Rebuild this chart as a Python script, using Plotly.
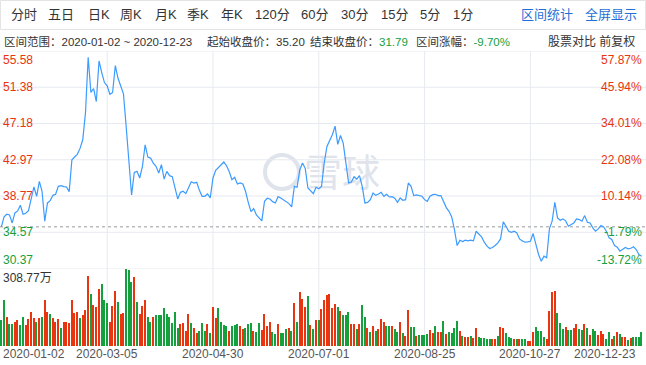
import pandas as pd
import plotly.graph_objects as go

W, H = 646, 365

# ---------------- data ----------------
holidays = ['2020-01-01', '2020-01-24', '2020-01-27', '2020-01-28', '2020-01-29',
            '2020-01-30', '2020-01-31', '2020-04-06', '2020-05-01', '2020-05-04',
            '2020-05-05', '2020-06-25', '2020-06-26', '2020-10-01', '2020-10-02',
            '2020-10-05', '2020-10-06', '2020-10-07', '2020-10-08']
dates = [d.strftime('%Y-%m-%d') for d in pd.bdate_range('2020-01-02', '2020-12-23')
         if d.strftime('%Y-%m-%d') not in holidays]

closes = [
    35.20, 36.35, 36.66, 36.58, 35.65, 36.81, 37.04, 37.70, 36.66, 36.77,
    37.08, 38.55, 39.82, 38.74, 40.47, 39.32, 35.85, 37.97, 38.24, 38.85,
    38.97, 39.89, 39.97, 39.86, 39.82, 39.28, 42.98, 43.29, 43.60, 44.29,
    45.29, 48.38, 54.85, 50.77, 51.23, 49.72, 54.43, 53.08, 51.92, 51.54,
    50.57, 50.77, 53.89, 52.42, 51.46, 50.61, 46.83, 42.59, 38.89, 41.51,
    41.63, 40.86, 42.21, 44.71, 43.29, 43.17, 42.59, 42.21, 41.44, 42.40,
    40.74, 41.63, 41.13, 41.01, 39.59, 38.43, 39.20, 39.32, 39.05, 39.74,
    40.43, 40.28, 40.36, 39.43, 38.74, 38.74, 39.01, 38.55, 40.86, 41.74,
    42.05, 42.32, 42.71, 42.28, 41.59, 40.67, 40.94, 40.16, 40.28, 40.16,
    39.32, 38.04, 36.96, 37.31, 36.58, 36.23, 35.89, 38.16, 38.51, 38.43,
    38.12, 37.97, 38.70, 38.55, 38.35, 38.12, 37.89, 37.50, 39.89, 39.78,
    41.82, 42.59, 41.98, 39.70, 39.43, 39.05, 39.78, 39.62, 39.89, 42.60,
    44.52, 45.14, 45.87, 46.87, 44.75, 45.79, 44.91, 42.59, 40.28, 40.40,
    41.01, 40.74, 41.13, 39.89, 37.97, 38.04, 38.35, 39.12, 38.85, 39.01,
    39.20, 38.74, 38.97, 38.66, 38.70, 38.51, 38.04, 38.55, 38.28, 38.35,
    40.28, 39.89, 38.82, 38.89, 38.85, 38.74, 38.35, 38.16, 38.74, 38.93,
    38.97, 38.82, 38.82, 38.16, 37.43, 37.00, 36.35, 34.88, 33.03, 33.65,
    33.50, 33.65, 33.57, 33.65, 33.57, 34.69, 34.30, 34.03, 33.42, 32.96,
    32.69, 32.80, 33.03, 33.34, 33.80, 35.77, 35.27, 34.69, 34.57, 34.69,
    34.50, 33.80, 33.57, 33.42, 33.46, 33.53, 34.42, 33.15, 31.99, 31.22,
    31.80, 31.61, 34.96, 35.85, 38.04, 36.23, 35.96, 36.12, 35.89, 35.27,
    35.46, 35.65, 36.12, 36.04, 35.85, 36.50, 35.73, 35.65, 35.08, 34.69,
    34.96, 35.35, 35.19, 34.69, 33.92, 33.73, 33.03, 32.84, 32.38, 32.57,
    32.80, 32.65, 32.72, 32.88, 32.57, 31.99, 31.79]

# volume in 万股
volumes = [
    104.7, 185.3, 118.1, 88.6, 88.6, 98.0, 104.7, 83.2, 115.5, 84.6,
    107.4, 135.6, 111.4, 98.0, 111.4, 115.5, 185.3, 138.3, 127.5, 111.4,
    98.0, 107.4, 73.8, 95.3, 95.3, 91.3, 185.3, 131.6, 135.6, 111.4,
    124.9, 145.0, 281.9, 209.4, 165.1, 155.7, 228.2, 249.7, 185.3, 171.8,
    98.0, 161.1, 221.5, 175.9, 128.9, 132.9, 308.77, 306.0, 256.4, 276.6,
    175.9, 127.5, 161.1, 185.3, 118.1, 96.7, 115.5, 123.5, 124.9, 124.9,
    151.7, 128.9, 118.1, 91.3, 135.6, 73.8, 88.6, 91.3, 61.8, 127.5,
    91.3, 71.2, 51.0, 60.4, 91.3, 61.8, 87.3, 53.7, 155.7, 114.1,
    151.7, 95.3, 84.6, 81.9, 61.8, 81.9, 84.6, 87.3, 80.6, 67.1,
    71.2, 88.6, 91.3, 61.8, 55.0, 91.3, 64.4, 127.5, 80.6, 98.0,
    55.0, 47.0, 87.3, 51.0, 51.0, 67.1, 71.2, 61.8, 171.8, 98.0,
    216.1, 188.0, 155.7, 201.4, 84.6, 68.5, 104.7, 103.4, 149.0, 185.3,
    205.4, 209.4, 151.7, 167.8, 155.7, 142.3, 123.5, 123.5, 135.6, 87.3,
    87.3, 67.1, 87.3, 165.1, 115.5, 71.2, 55.0, 81.9, 60.4, 67.1,
    107.4, 95.3, 81.9, 79.2, 81.9, 68.5, 55.0, 95.3, 51.0, 41.6,
    145.0, 75.2, 75.2, 41.6, 44.3, 44.3, 44.3, 48.3, 64.4, 53.7,
    81.9, 55.0, 55.0, 100.7, 47.0, 57.7, 53.7, 71.2, 102.0, 61.8,
    41.6, 34.9, 34.9, 40.3, 33.6, 71.2, 34.9, 30.9, 30.9, 28.2,
    28.2, 28.2, 26.9, 41.6, 75.2, 73.8, 51.0, 37.6, 33.6, 29.5,
    28.2, 29.5, 28.2, 26.9, 21.5, 20.1, 55.0, 77.9, 60.4, 61.8,
    37.6, 28.2, 142.3, 214.8, 218.8, 131.6, 91.3, 67.1, 77.9, 64.4,
    64.4, 71.2, 87.3, 68.5, 64.4, 87.3, 73.8, 44.3, 67.1, 61.8,
    44.3, 61.8, 48.3, 28.2, 57.7, 28.2, 40.3, 57.7, 48.3, 37.6,
    34.9, 24.2, 30.9, 34.9, 34.9, 34.9, 57.7]

# 1 = red (up) bar, 0 = green (down) bar
up_flags = [
    0, 0, 1, 0, 0, 1, 1, 0, 0, 1,
    1, 1, 1, 0, 1, 0, 1, 1, 0, 1,
    1, 1, 0, 1, 1, 1, 1, 1, 1, 0,
    1, 1, 1, 0, 1, 1, 1, 0, 0, 0,
    1, 1, 1, 0, 1, 1, 0, 0, 0, 1,
    0, 1, 1, 1, 0, 0, 1, 0, 0, 0,
    0, 0, 0, 0, 0, 0, 1, 1, 1, 1,
    0, 1, 1, 0, 0, 0, 1, 0, 1, 1,
    0, 0, 0, 0, 1, 0, 0, 0, 1, 1,
    0, 0, 0, 1, 0, 0, 1, 1, 1, 1,
    0, 0, 1, 0, 0, 0, 1, 0, 1, 0,
    1, 1, 1, 0, 1, 0, 1, 0, 1, 1,
    1, 1, 1, 1, 0, 1, 0, 0, 0, 1,
    1, 0, 1, 0, 0, 1, 0, 1, 0, 1,
    1, 1, 0, 0, 1, 0, 0, 1, 0, 1,
    1, 0, 0, 1, 0, 0, 0, 0, 1, 1,
    0, 1, 1, 0, 1, 0, 0, 0, 0, 1,
    0, 1, 1, 0, 1, 1, 0, 0, 0, 0,
    0, 1, 1, 0, 1, 1, 0, 0, 0, 1,
    0, 1, 0, 0, 1, 1, 1, 0, 0, 0,
    0, 1, 1, 1, 1, 0, 0, 0, 1, 0,
    0, 1, 1, 0, 0, 1, 0, 1, 0, 0,
    1, 1, 1, 0, 0, 1, 0, 1, 0, 1,
    1, 0, 1, 0, 0, 0, 0]

assert len(dates) == len(closes) == len(volumes) == len(up_flags), (
    len(dates), len(closes), len(volumes), len(up_flags))

price_ticks = [55.58, 51.38, 47.18, 42.97, 38.77, 34.57, 30.37]
pct_ticks = ['57.87%', '45.94%', '34.01%', '22.08%', '10.14%', '-1.79%', '-13.72%']
x_tick_dates = ['2020-01-02', '2020-03-05', '2020-04-30', '2020-07-01',
                '2020-08-25', '2020-10-27', '2020-12-23']
start_close = 35.20
end_close = 31.79
change_pct = '-9.70%'
vol_max = 308.77
vol_label = '308.77万'
tabs = ['分时', '五日', '日K', '周K', '月K', '季K', '年K', '120分', '60分',
        '30分', '15分', '5分', '1分']
right_tabs = ['区间统计', '全屏显示']

# ---------------- style ----------------
FONT = 'Liberation Sans, Arial, Noto Sans CJK SC, sans-serif'
RED = '#e8340f'
GREEN = '#14a03c'
BLUE_LINE = '#3c9bff'
GRID = '#e6e9ef'
TEXT = '#333333'
LINK = '#1f6fd6'
WATER = '#dfe4ec'


def px(x):
    return x / W


def py(y):
    return 1 - y / H


X_RIGHT = 643 / W
PRICE_TOP, PRICE_BOT = 51.0, 268.5
VOL_TOP, VOL_BOT = 269.0, 346.0

fig = go.Figure()
fig.add_trace(go.Bar(
    x=dates, y=volumes, yaxis='y2', width=0.5,
    marker=dict(color=[RED if u else GREEN for u in up_flags], line=dict(width=0)),
    hoverinfo='skip'))
fig.add_trace(go.Scatter(
    x=dates, y=closes, mode='lines', line=dict(color=BLUE_LINE, width=1.2),
    hoverinfo='skip'))

shapes = []
# watermark (drawn below the data)
shapes.append(dict(type='circle', xref='paper', yref='paper',
                   x0=px(265), x1=px(299), y0=py(189), y1=py(155),
                   line=dict(color=WATER, width=4), layer='below'))
shapes.append(dict(type='rect', xref='paper', yref='paper',
                   x0=px(300), x1=px(384), y0=py(194), y1=py(156),
                   line=dict(width=0), fillcolor='rgba(0,0,0,0)', layer='below',
                   label=dict(text='雪球', textposition='middle center',
                              font=dict(size=38, color=WATER, family='Noto Sans CJK SC'))))
# horizontal price grid
for v in price_ticks:
    shapes.append(dict(type='line', xref='paper', yref='y', x0=0, x1=1, y0=v, y1=v,
                       line=dict(color=GRID, width=1), layer='below'))
# vertical grid at date ticks (interior ones)
for d in x_tick_dates[1:-1]:
    shapes.append(dict(type='line', xref='x', yref='paper', x0=d, x1=d,
                       y0=py(VOL_BOT), y1=py(PRICE_TOP),
                       line=dict(color=GRID, width=1), layer='below'))
# start price dashed line
shapes.append(dict(type='line', xref='paper', yref='y', x0=0, x1=1,
                   y0=start_close, y1=start_close,
                   line=dict(color='#9a9a9a', width=1, dash='3px,3px'), layer='below'))
# tab bar border
shapes.append(dict(type='rect', xref='paper', yref='paper',
                   x0=px(0.5), x1=px(645.5), y0=py(29.5), y1=py(0.5),
                   line=dict(color='#e4e4e4', width=1), layer='below'))

ann = []
tab_x = [9, 46, 86, 118, 153, 185, 219, 253, 299, 339, 379, 418, 451]
for t, x in zip(tabs, tab_x):
    ann.append(dict(text=t, x=px(x), y=py(15), xref='paper', yref='paper',
                    xanchor='left', yanchor='middle', showarrow=False,
                    font=dict(size=13, color=TEXT, family=FONT)))
for t, x in zip(right_tabs, [519, 583]):
    ann.append(dict(text=t, x=px(x), y=py(15), xref='paper', yref='paper',
                    xanchor='left', yanchor='middle', showarrow=False,
                    font=dict(size=13, color=LINK, family=FONT)))

info_y = py(41.5)
green_span = '<span style="color:%s">%s</span>'
info = [
    ('区间范围：%s ~ %s' % (dates[0], dates[-1]), 2),
    ('起始收盘价：%.2f' % start_close, 205),
    ('结束收盘价：' + green_span % (GREEN, '%.2f' % end_close), 308),
    ('区间涨幅：' + green_span % (GREEN, change_pct), 414),
]
for t, x in info:
    ann.append(dict(text=t, x=px(x), y=info_y, xref='paper', yref='paper',
                    xanchor='left', yanchor='middle', showarrow=False,
                    font=dict(size=11.5, color=TEXT, family=FONT)))
ann.append(dict(text='股票对比 前复权', x=px(637), y=info_y, xref='paper', yref='paper',
                xanchor='right', yanchor='middle', showarrow=False,
                font=dict(size=12, color=TEXT, family=FONT)))

# y tick labels
n = len(price_ticks)
for k, (v, p) in enumerate(zip(price_ticks, pct_ticks)):
    col = RED if v > start_close else GREEN
    ya = 'top' if k == 0 else ('bottom' if k == n - 1 else 'middle')
    ann.append(dict(text='%.2f' % v, x=px(1), y=v, xref='paper', yref='y',
                    xanchor='left', yanchor=ya, showarrow=False,
                    font=dict(size=12, color=col, family=FONT)))
    ann.append(dict(text=p, x=px(644), y=v, xref='paper', yref='y',
                    xanchor='right', yanchor=ya, showarrow=False,
                    font=dict(size=12, color=col, family=FONT)))

ann.append(dict(text=vol_label, x=px(1), y=py(VOL_TOP), xref='paper', yref='paper',
                xanchor='left', yanchor='top', showarrow=False,
                font=dict(size=12, color=TEXT, family=FONT)))

# x tick labels
for k, d in enumerate(x_tick_dates):
    if k == 0:
        ann.append(dict(text=d, x=px(1), xref='paper', xanchor='left'))
    elif k == len(x_tick_dates) - 1:
        ann.append(dict(text=d, x=px(638), xref='paper', xanchor='right'))
    else:
        ann.append(dict(text=d, x=d, xref='x', xanchor='center'))
    ann[-1].update(y=py(354), yref='paper', yanchor='middle', showarrow=False,
                   font=dict(size=12, color='#555555', family=FONT))

fig.update_layout(
    width=W, height=H, margin=dict(l=0, r=0, t=0, b=0),
    paper_bgcolor='white', plot_bgcolor='rgba(0,0,0,0)',
    showlegend=False, bargap=0,
    xaxis=dict(type='category', domain=[0, X_RIGHT], range=[-0.5, len(dates) - 0.5],
               showgrid=False, showticklabels=False, showline=False, zeroline=False,
               fixedrange=True),
    yaxis=dict(domain=[py(PRICE_BOT), py(PRICE_TOP)], range=[price_ticks[-1], price_ticks[0]],
               showgrid=False, showticklabels=False, zeroline=False, showline=False,
               fixedrange=True),
    yaxis2=dict(domain=[py(VOL_BOT), py(VOL_TOP)], range=[0, vol_max],
                showgrid=False, showticklabels=False, zeroline=False, showline=False,
                fixedrange=True),
    shapes=shapes, annotations=ann,
)

fig.write_html('out.html', config={'displayModeBar': False},
               post_script="document.body.style.margin='0px';")
